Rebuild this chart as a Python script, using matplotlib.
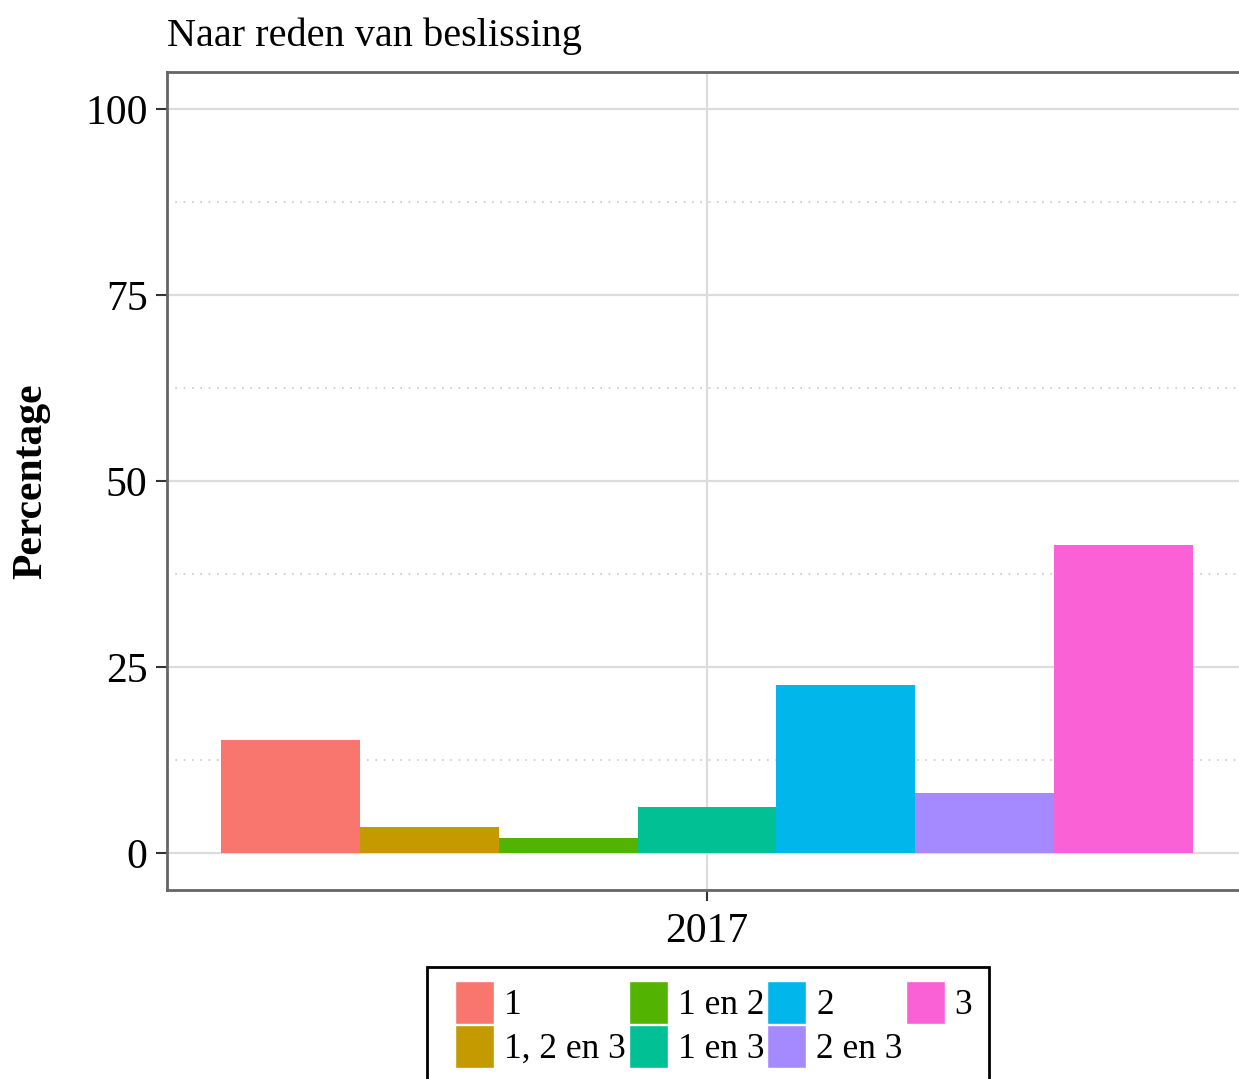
import matplotlib.pyplot as plt
from matplotlib.patches import Patch, Rectangle

categories = ["1", "1, 2 en 3", "1 en 2", "1 en 3", "2", "2 en 3", "3"]
values = [15.2, 3.5, 2.0, 6.1, 22.6, 8.1, 41.4]
colors = ["#F8766D", "#C49A00", "#53B400", "#00C094", "#00B6EB", "#A58AFF", "#FB61D7"]
year_label = "2017"

plt.rcParams["font.family"] = ["Liberation Serif", "DejaVu Serif"]

W, H = 1239, 1079
fig = plt.figure(figsize=(W / 100, H / 100), dpi=100)
# axes right edge runs past the figure, like the cropped original
ax = fig.add_axes([167 / W, 1 - 890 / H, 1080 / W, 818 / H])

n = len(categories)
group_width = 0.9
bw = group_width / n
for i, (cat, v, c) in enumerate(zip(categories, values, colors)):
    x = -group_width / 2 + bw * (i + 0.5)
    ax.bar(x, v, width=bw, color=c, zorder=3)

ax.set_xlim(-0.5, 0.5)
ax.set_ylim(-5, 105)
ax.set_yticks([0, 25, 50, 75, 100])
ax.set_yticks([12.5, 37.5, 62.5, 87.5], minor=True)
ax.set_xticks([0])
ax.set_xticklabels([year_label])

ax.grid(True, which="major", axis="both", color="#dcdcdc", linewidth=1.6, zorder=0)
ax.grid(True, which="minor", axis="y", color="#c8c8c8", linewidth=1.2,
        linestyle=(0, (1, 4)), zorder=0)
ax.tick_params(axis="both", which="major", labelsize=30, length=8, width=1.5,
               color="#333333", labelcolor="black", pad=6)
ax.tick_params(axis="x", which="major", pad=8)
ax.tick_params(axis="y", which="minor", length=0)

for side in ["left", "bottom", "top", "right"]:
    ax.spines[side].set_color("#666666")
    ax.spines[side].set_linewidth(2)

ax.set_ylabel("Percentage", fontsize=30, fontweight="bold", labelpad=25)
ax.set_title("Naar reden van beslissing", fontsize=29, loc="left", pad=19)

# legend: ggplot fills columns first; frame drawn separately (uneven padding)
handles = [Patch(facecolor=c, edgecolor="white", label=cat) for cat, c in zip(categories, colors)]
leg = fig.legend(handles=handles, ncol=4, loc="upper left",
                 bbox_to_anchor=(455 / W, 1 - 981 / H), borderaxespad=0,
                 fontsize=25.5, frameon=False,
                 handlelength=1.1, handleheight=1.5, handletextpad=0.28,
                 columnspacing=0.09, labelspacing=0.02, borderpad=0)
fig.add_artist(Rectangle((427 / W, -0.01), (989 - 427) / W, 0.01 + (H - 967) / H,
                         transform=fig.transFigure, fill=False,
                         edgecolor="black", linewidth=2))

fig.savefig("out.png", dpi=100)
